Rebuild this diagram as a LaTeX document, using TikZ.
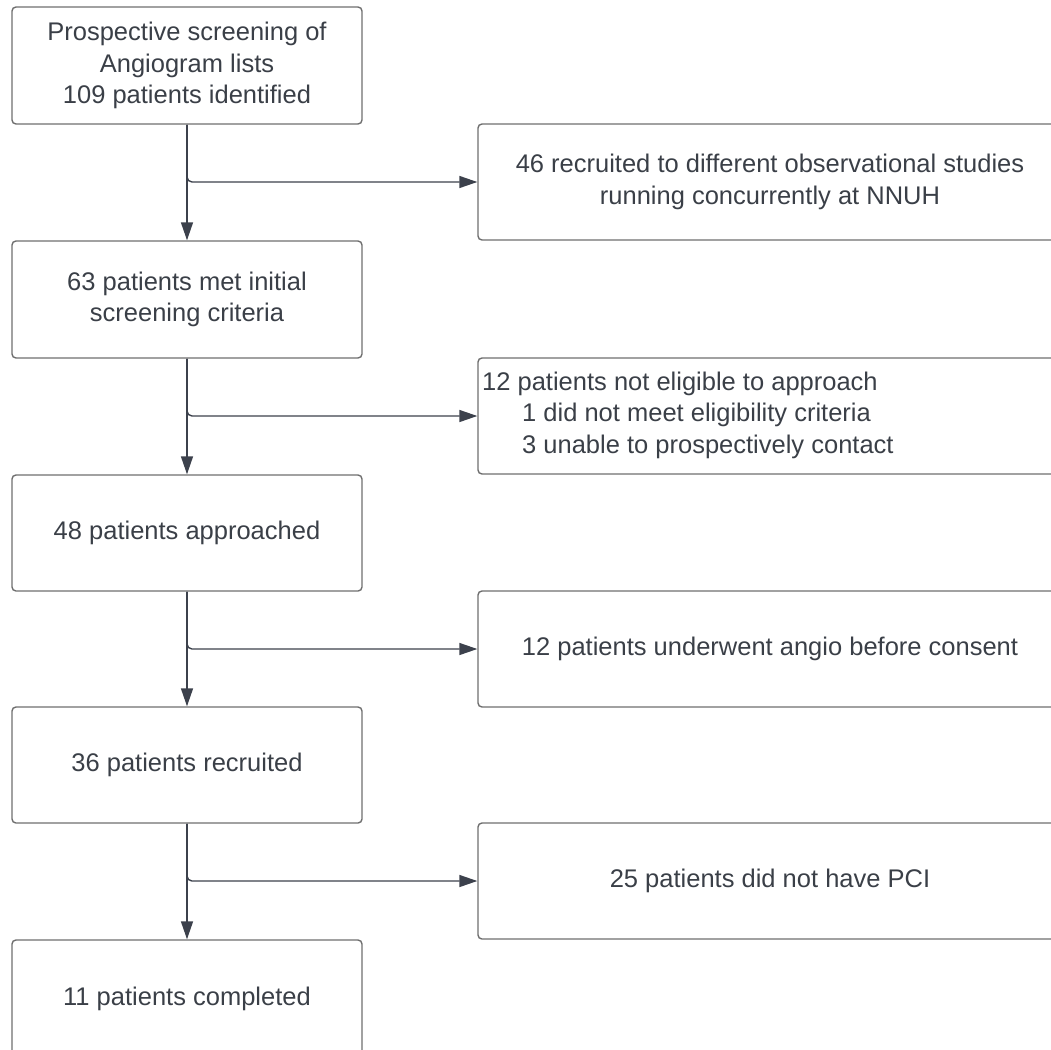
\documentclass[tikz,border=0pt]{standalone}
\usepackage{fontspec}
\setmainfont{Liberation Sans}
\usetikzlibrary{arrows.meta}
\definecolor{edge}{HTML}{6E6E6E}
\definecolor{ink}{HTML}{3A3F47}
\definecolor{wire}{HTML}{3C414C}
\begin{document}
\begin{tikzpicture}[x=1pt,y=-1pt,
  box/.style={draw=edge, line width=1.4pt, rounded corners=4pt,
    minimum width=350pt, minimum height=117pt, inner sep=0pt,
    align=center, text=ink, font=\fontsize{25.5}{31.5}\selectfont},
  sidebox/.style={box, minimum width=584pt, minimum height=116pt},
  label/.style={inner sep=0pt, align=left, text=ink,
    font=\fontsize{25.5}{31.5}\selectfont},
  flow/.style={draw=wire, line width=1.4pt, -{Triangle[length=18pt,width=12pt]}},
  branch/.style={flow, rounded corners=5pt}]
\useasboundingbox (0,0) rectangle (1051,1049);
\clip (0,0) rectangle (1051,1049);

% main column
\node[box] (b1) at (187,65.5) {Prospective screening of\\Angiogram lists\\109 patients identified};
\node[box] (b2) at (187,299.5) {63 patients met initial\\screening criteria};
\node[box, minimum height=116pt] (b3) at (187,533) {48 patients approached};
\node[box, minimum height=116pt] (b4) at (187,765) {36 patients recruited};
\node[box] (b5) at (187,998.5) {11 patients completed};

% exclusions
\node[sidebox] (r1) at (770,182) {46 recruited to different observational studies\\running concurrently at NNUH};
\node[sidebox] (r2) at (770,416) {};
\node[label, anchor=west] (t2) at (482,415)
  {12 patients not eligible to approach\\
   \hspace*{40pt}1 did not meet eligibility criteria\\
   \hspace*{40pt}3 unable to prospectively contact};
\node[sidebox] (r3) at (770,649) {12 patients underwent angio before consent};
\node[sidebox] (r4) at (770,881) {25 patients did not have PCI};

% connectors
\draw[flow] (b1.south) -- (b2.north);
\draw[flow] (b2.south) -- (b3.north);
\draw[flow] (b3.south) -- (b4.north);
\draw[flow] (b4.south) -- (b5.north);
\draw[branch] (b1.south) |- (r1.west);
\draw[branch] (b2.south) |- (r2.west);
\draw[branch] (b3.south) |- (r3.west);
\draw[branch] (b4.south) |- (r4.west);
\end{tikzpicture}
\end{document}
